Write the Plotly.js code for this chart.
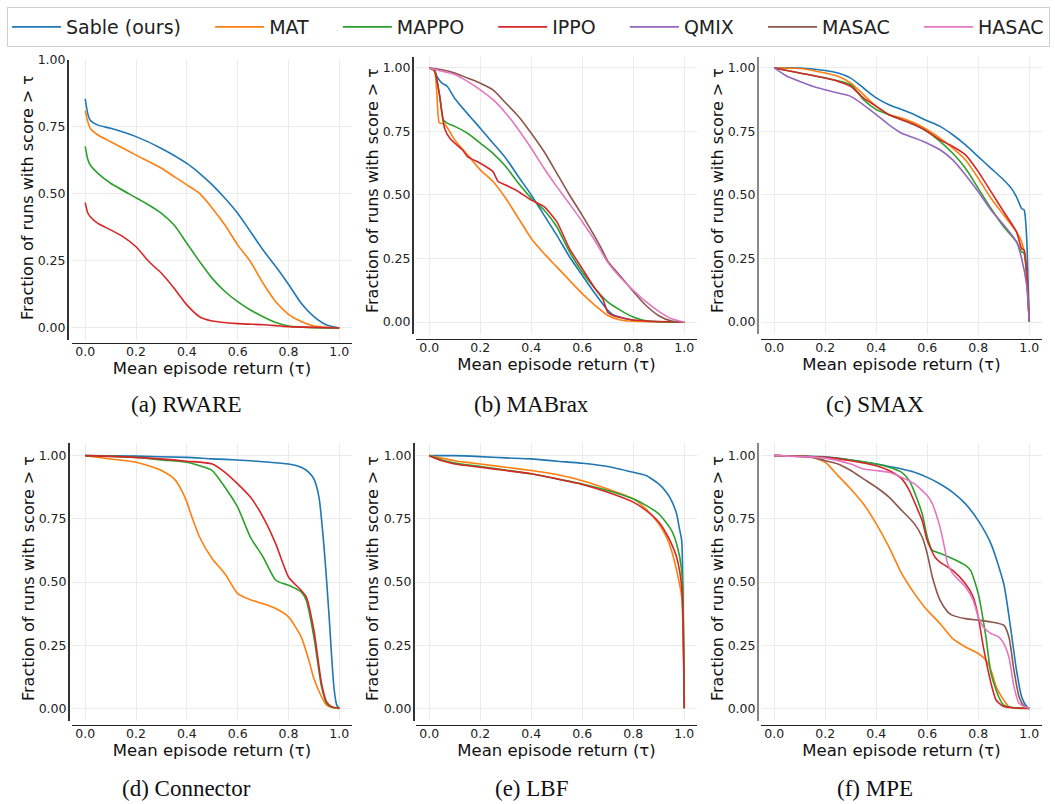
<!DOCTYPE html>
<html><head><meta charset="utf-8">
<script src="https://cdn.plot.ly/plotly-3.0.1.min.js"></script>
<style>html,body{margin:0;padding:0;background:#fff}</style>
</head><body><div id="chart" style="width:1055px;height:804px"></div>
<script>
// ---------- Data ----------
const algorithms = ["Sable (ours)", "MAT", "MAPPO", "IPPO", "QMIX", "MASAC", "HASAC"];
const captions = ["(a) RWARE", "(b) MABrax", "(c) SMAX", "(d) Connector", "(e) LBF", "(f) MPE"];
const xTickVals = [0, 0.2, 0.4, 0.6, 0.8, 1.0];
const xTickText = ["0.0", "0.2", "0.4", "0.6", "0.8", "1.0"];
const yTickVals = [0, 0.25, 0.5, 0.75, 1.0];
const yTickText = ["0.00", "0.25", "0.50", "0.75", "1.00"];
const xTitle = "Mean episode return (τ)";
const yTitle = "Fraction of runs with score > τ";

// (a) RWARE
const rwareSableX = [0,0.01,0.02,0.05,0.1,0.2,0.3,0.4,0.45,0.5,0.55,0.6,0.65,0.7,0.75,0.8,0.85,0.9,0.95,1.0];
const rwareSableY = [0.855,0.80,0.775,0.757,0.745,0.714,0.670,0.614,0.577,0.534,0.484,0.428,0.36,0.291,0.229,0.163,0.092,0.042,0.011,0.0];
const rwareMatX = [0,0.01,0.02,0.05,0.1,0.2,0.3,0.35,0.4,0.45,0.5,0.55,0.6,0.65,0.7,0.75,0.8,0.85,0.9,0.95,1.0];
const rwareMatY = [0.81,0.77,0.745,0.72,0.695,0.645,0.596,0.565,0.534,0.502,0.447,0.384,0.31,0.248,0.167,0.098,0.051,0.024,0.007,0.002,0];
const rwareMappoX = [0,0.01,0.02,0.05,0.1,0.2,0.25,0.3,0.35,0.4,0.45,0.5,0.55,0.6,0.65,0.7,0.75,0.8,0.85,0.9,1.0];
const rwareMappoY = [0.678,0.63,0.608,0.577,0.54,0.486,0.459,0.428,0.384,0.316,0.248,0.185,0.136,0.098,0.067,0.042,0.02,0.007,0.003,0.001,0];
const rwareIppoX = [0,0.01,0.02,0.05,0.1,0.15,0.2,0.25,0.3,0.35,0.4,0.45,0.5,0.6,0.7,0.8,0.9,1.0];
const rwareIppoY = [0.468,0.43,0.415,0.39,0.366,0.34,0.303,0.248,0.204,0.148,0.086,0.042,0.026,0.016,0.012,0.005,0.002,0];

// (b) MABrax
const mabraxSableX = [0,0.02,0.03,0.05,0.07,0.1,0.15,0.2,0.25,0.3,0.35,0.4,0.45,0.5,0.55,0.6,0.65,0.7,0.72,0.8,0.9,1.0];
const mabraxSableY = [1.0,0.993,0.967,0.94,0.928,0.88,0.82,0.763,0.704,0.645,0.572,0.5,0.421,0.342,0.257,0.184,0.112,0.046,0.029,0.007,0.001,0];
const mabraxMatX = [0,0.02,0.03,0.04,0.06,0.08,0.1,0.15,0.2,0.25,0.3,0.35,0.4,0.45,0.5,0.55,0.6,0.65,0.7,0.75,0.8,0.9,1.0];
const mabraxMatY = [1.0,0.99,0.895,0.783,0.78,0.75,0.717,0.658,0.599,0.553,0.487,0.408,0.329,0.27,0.217,0.164,0.112,0.066,0.026,0.008,0.003,0.001,0];
const mabraxMappoX = [0,0.02,0.04,0.055,0.07,0.1,0.15,0.2,0.25,0.3,0.35,0.4,0.45,0.5,0.55,0.6,0.65,0.7,0.75,0.8,0.85,0.9,1.0];
const mabraxMappoY = [1.0,0.99,0.895,0.796,0.783,0.77,0.743,0.704,0.664,0.612,0.546,0.487,0.441,0.375,0.276,0.197,0.132,0.079,0.046,0.02,0.005,0.001,0];
const mabraxIppoX = [0,0.02,0.04,0.06,0.08,0.1,0.13,0.15,0.2,0.25,0.26,0.27,0.3,0.35,0.4,0.45,0.5,0.55,0.6,0.65,0.68,0.7,0.72,0.8,0.9,1.0];
const mabraxIppoY = [1.0,0.99,0.895,0.763,0.724,0.704,0.678,0.651,0.625,0.592,0.572,0.553,0.539,0.513,0.48,0.454,0.395,0.289,0.21,0.132,0.092,0.039,0.026,0.008,0.002,0];
const mabraxMasacX = [0,0.05,0.1,0.15,0.2,0.25,0.3,0.35,0.4,0.45,0.5,0.55,0.6,0.65,0.68,0.7,0.75,0.8,0.85,0.9,0.95,1.0];
const mabraxMasacY = [1.0,0.993,0.98,0.96,0.94,0.914,0.862,0.809,0.743,0.671,0.586,0.5,0.42,0.335,0.28,0.24,0.18,0.12,0.065,0.025,0.004,0];
const mabraxHasacX = [0,0.05,0.1,0.15,0.2,0.25,0.3,0.35,0.4,0.45,0.5,0.55,0.6,0.65,0.7,0.75,0.8,0.85,0.9,0.95,1.0];
const mabraxHasacY = [1.0,0.987,0.974,0.947,0.914,0.875,0.822,0.757,0.684,0.605,0.533,0.465,0.395,0.32,0.235,0.175,0.125,0.08,0.042,0.013,0];

// (c) SMAX
const smaxSableX = [0,0.1,0.2,0.25,0.3,0.35,0.4,0.45,0.5,0.55,0.6,0.65,0.7,0.75,0.8,0.85,0.9,0.93,0.95,0.97,0.98,0.99,0.995,1.0];
const smaxSableY = [1.0,1.0,0.99,0.98,0.96,0.921,0.882,0.855,0.836,0.816,0.792,0.77,0.737,0.697,0.651,0.605,0.559,0.526,0.493,0.447,0.441,0.329,0.17,0];
const smaxMatX = [0,0.1,0.2,0.25,0.3,0.35,0.4,0.45,0.5,0.55,0.6,0.65,0.7,0.75,0.8,0.85,0.9,0.95,0.97,0.98,0.99,1.0];
const smaxMatY = [1.0,0.998,0.98,0.967,0.94,0.895,0.849,0.816,0.803,0.783,0.757,0.724,0.684,0.638,0.566,0.487,0.421,0.355,0.316,0.276,0.184,0];
const smaxMappoX = [0,0.1,0.2,0.3,0.35,0.4,0.45,0.5,0.55,0.6,0.65,0.7,0.75,0.8,0.85,0.9,0.95,0.97,0.98,0.99,1.0];
const smaxMappoY = [1.0,0.98,0.96,0.934,0.875,0.836,0.816,0.796,0.776,0.75,0.711,0.664,0.605,0.526,0.447,0.375,0.316,0.276,0.27,0.171,0];
const smaxIppoX = [0,0.05,0.1,0.2,0.25,0.3,0.35,0.4,0.45,0.5,0.55,0.6,0.65,0.7,0.75,0.8,0.85,0.9,0.95,0.97,0.98,0.99,1.0];
const smaxIppoY = [1.0,0.99,0.98,0.96,0.947,0.928,0.882,0.849,0.816,0.796,0.776,0.75,0.717,0.691,0.658,0.592,0.513,0.434,0.355,0.289,0.283,0.197,0];
const smaxQmixX = [0,0.05,0.1,0.15,0.2,0.25,0.3,0.35,0.4,0.45,0.5,0.55,0.6,0.65,0.7,0.75,0.8,0.85,0.9,0.95,0.97,0.99,1.0];
const smaxQmixY = [1.0,0.967,0.947,0.928,0.914,0.901,0.888,0.855,0.816,0.776,0.743,0.724,0.704,0.678,0.638,0.579,0.513,0.441,0.382,0.316,0.25,0.145,0];

// (d) Connector
const connSableX = [0,0.2,0.4,0.5,0.6,0.7,0.8,0.85,0.88,0.9,0.92,0.94,0.95,0.96,0.97,0.98,0.99,1.0];
const connSableY = [1.0,0.998,0.993,0.987,0.983,0.976,0.967,0.954,0.934,0.908,0.836,0.638,0.507,0.362,0.204,0.072,0.013,0];
const connMatX = [0,0.1,0.2,0.25,0.3,0.35,0.38,0.4,0.42,0.45,0.5,0.55,0.6,0.65,0.7,0.75,0.8,0.85,0.88,0.9,0.93,0.95,0.97,1.0];
const connMatY = [1.0,0.987,0.974,0.96,0.941,0.908,0.862,0.816,0.757,0.678,0.592,0.533,0.454,0.43,0.414,0.395,0.362,0.283,0.191,0.118,0.046,0.013,0.004,0];
const connMappoX = [0,0.2,0.3,0.4,0.45,0.5,0.55,0.6,0.65,0.7,0.75,0.8,0.85,0.87,0.9,0.93,0.95,0.97,1.0];
const connMappoY = [1.0,0.993,0.983,0.974,0.96,0.941,0.875,0.796,0.678,0.599,0.507,0.487,0.461,0.428,0.283,0.086,0.02,0.004,0];
const connIppoX = [0,0.2,0.4,0.5,0.55,0.6,0.65,0.7,0.75,0.8,0.85,0.87,0.9,0.93,0.95,0.97,1.0];
const connIppoY = [1.0,0.993,0.978,0.967,0.934,0.888,0.836,0.757,0.651,0.52,0.467,0.441,0.309,0.099,0.026,0.007,0];

// (e) LBF
const lbfSableX = [0,0.1,0.2,0.3,0.4,0.5,0.6,0.7,0.8,0.85,0.9,0.93,0.95,0.97,0.98,0.99,0.995,1.0];
const lbfSableY = [1.0,1.0,0.996,0.991,0.987,0.978,0.97,0.957,0.934,0.921,0.888,0.855,0.822,0.77,0.717,0.664,0.44,0];
const lbfMatX = [0,0.1,0.2,0.3,0.4,0.5,0.6,0.7,0.8,0.85,0.9,0.93,0.95,0.97,0.99,1.0];
const lbfMatY = [1.0,0.98,0.967,0.954,0.941,0.925,0.901,0.868,0.829,0.789,0.73,0.678,0.625,0.546,0.441,0];
const lbfMappoX = [0,0.05,0.1,0.2,0.3,0.4,0.5,0.6,0.7,0.8,0.85,0.9,0.95,0.97,0.99,1.0];
const lbfMappoY = [1.0,0.983,0.971,0.957,0.943,0.928,0.908,0.888,0.862,0.829,0.803,0.77,0.704,0.651,0.546,0];
const lbfIppoX = [0,0.05,0.1,0.2,0.3,0.4,0.5,0.6,0.7,0.8,0.85,0.9,0.93,0.95,0.97,0.99,1.0];
const lbfIppoY = [1.0,0.98,0.967,0.954,0.941,0.928,0.908,0.886,0.855,0.816,0.783,0.737,0.691,0.651,0.599,0.48,0];

// (f) MPE
const mpeSableX = [0,0.2,0.3,0.4,0.5,0.55,0.6,0.65,0.7,0.75,0.8,0.85,0.9,0.93,0.95,0.97,0.99,1.0];
const mpeSableY = [1.0,0.995,0.983,0.967,0.947,0.934,0.914,0.888,0.855,0.809,0.743,0.651,0.493,0.296,0.151,0.046,0.007,0];
const mpeMatX = [0,0.1,0.15,0.2,0.25,0.3,0.35,0.4,0.45,0.5,0.55,0.6,0.65,0.7,0.75,0.8,0.83,0.85,0.87,0.9,0.92,1.0];
const mpeMatY = [1.0,0.998,0.993,0.974,0.921,0.868,0.809,0.73,0.638,0.533,0.454,0.388,0.336,0.276,0.243,0.217,0.191,0.151,0.086,0.033,0.007,0];
const mpeMappoX = [0,0.2,0.3,0.4,0.45,0.5,0.53,0.55,0.58,0.6,0.62,0.65,0.7,0.75,0.77,0.8,0.83,0.85,0.88,0.9,0.95,1.0];
const mpeMappoY = [1.0,0.993,0.983,0.967,0.954,0.934,0.901,0.855,0.77,0.678,0.625,0.614,0.592,0.566,0.546,0.454,0.283,0.138,0.046,0.013,0.001,0];
const mpeIppoX = [0,0.2,0.3,0.4,0.45,0.5,0.53,0.55,0.58,0.6,0.63,0.65,0.7,0.75,0.78,0.8,0.82,0.85,0.87,0.9,1.0];
const mpeIppoY = [1.0,0.993,0.98,0.96,0.941,0.908,0.862,0.816,0.743,0.664,0.599,0.579,0.546,0.493,0.441,0.362,0.243,0.099,0.033,0.007,0];
const mpeMasacX = [0,0.1,0.15,0.2,0.25,0.3,0.35,0.4,0.45,0.5,0.55,0.58,0.6,0.62,0.65,0.68,0.7,0.75,0.8,0.85,0.9,0.92,0.94,0.96,0.98,1.0];
const mpeMasacY = [1.0,0.998,0.993,0.98,0.967,0.941,0.908,0.875,0.836,0.783,0.73,0.678,0.612,0.52,0.428,0.382,0.368,0.355,0.349,0.342,0.329,0.283,0.151,0.046,0.009,0];
const mpeHasacX = [0,0.2,0.3,0.35,0.4,0.45,0.5,0.55,0.6,0.62,0.65,0.67,0.68,0.7,0.75,0.78,0.8,0.82,0.85,0.88,0.9,0.92,0.94,0.96,0.98,1.0];
const mpeHasacY = [1.0,0.99,0.967,0.947,0.941,0.934,0.914,0.888,0.842,0.809,0.717,0.625,0.572,0.533,0.48,0.428,0.362,0.322,0.296,0.283,0.257,0.204,0.086,0.02,0.007,0];

// ---------- Styling ----------
const colors = {"Sable (ours)":"#1f77b4","MAT":"#ff7f0e","MAPPO":"#2ca02c","IPPO":"#d62728","QMIX":"#9467bd","MASAC":"#8c564b","HASAC":"#e377c2"};
const legendPad = "\u00a0\u00a0\u00a0\u00a0";
const W = 1055, H = 804;
const fx = p => p / W;
const fy = p => 1 - p / H;

const panels = [
  {series:[["Sable (ours)",rwareSableX,rwareSableY],["MAT",rwareMatX,rwareMatY],["MAPPO",rwareMappoX,rwareMappoY],["IPPO",rwareIppoX,rwareIppoY]],
   px:[72,352], py:[60,340], yr:[-0.045,1.0], xline:343, yline:67, lc:"#333", cap:[186,405], yt:[28,198]},
  {series:[["Sable (ours)",mabraxSableX,mabraxSableY],["MAT",mabraxMatX,mabraxMatY],["MAPPO",mabraxMappoX,mabraxMappoY],["IPPO",mabraxIppoX,mabraxIppoY],["MASAC",mabraxMasacX,mabraxMasacY],["HASAC",mabraxHasacX,mabraxHasacY]],
   px:[416,697], py:[57,334], yr:[-0.047,1.043], xline:339, yline:412, lc:"#333", cap:[531,405], yt:[372,191]},
  {series:[["Sable (ours)",smaxSableX,smaxSableY],["MAT",smaxMatX,smaxMatY],["MAPPO",smaxMappoX,smaxMappoY],["IPPO",smaxIppoX,smaxIppoY],["QMIX",smaxQmixX,smaxQmixY]],
   px:[761,1042], py:[57,334], yr:[-0.047,1.043], xline:339, yline:757, lc:"#888", cap:[875,405], yt:[717,191]},
  {series:[["Sable (ours)",connSableX,connSableY],["MAT",connMatX,connMatY],["MAPPO",connMappoX,connMappoY],["IPPO",connIppoX,connIppoY]],
   px:[72,352], py:[443,721], yr:[-0.05,1.05], xline:725, yline:68, lc:"#333", cap:[186,788], yt:[28,579]},
  {series:[["Sable (ours)",lbfSableX,lbfSableY],["MAT",lbfMatX,lbfMatY],["MAPPO",lbfMappoX,lbfMappoY],["IPPO",lbfIppoX,lbfIppoY]],
   px:[416,697], py:[443,721], yr:[-0.05,1.05], xline:725, yline:413, lc:"#333", cap:[531,788], yt:[372,579]},
  {series:[["Sable (ours)",mpeSableX,mpeSableY],["MAT",mpeMatX,mpeMatY],["MAPPO",mpeMappoX,mpeMappoY],["IPPO",mpeIppoX,mpeIppoY],["MASAC",mpeMasacX,mpeMasacY],["HASAC",mpeHasacX,mpeHasacY]],
   px:[761,1042], py:[443,721], yr:[-0.05,1.05], xline:725, yline:757, lc:"#888", cap:[875,788], yt:[717,579]}
];

const traces = [];
const shown = {};
const layout = {
  width: W, height: H, margin:{l:0,r:0,t:0,b:0},
  paper_bgcolor:"#fff", plot_bgcolor:"#fff",
  font:{family:"DejaVu Sans", color:"#222"},
  showlegend:true,
  legend:{orientation:"h", x:fx(7), y:fy(7), xanchor:"left", yanchor:"top",
          font:{family:"DejaVu Sans", size:19, color:"#222"},
          bordercolor:"#d0d0d0", borderwidth:1, bgcolor:"#fff", itemwidth:49},
  annotations:[]
};

panels.forEach((p, i) => {
  const n = i === 0 ? "" : String(i + 1);
  p.series.forEach(([name, xs, ys]) => {
    const first = !shown[name];
    shown[name] = true;
    const rank = algorithms.indexOf(name) + 1;
    traces.push({x: xs, y: ys, type:"scatter", mode:"lines",
      name: rank < algorithms.length ? name + legendPad : name,
      xaxis:"x"+n, yaxis:"y"+n, legendgroup:name, showlegend:first,
      legendrank: rank,
      line:{color: colors[name], width:1.6, shape:"spline", smoothing:0.6}, hoverinfo:"skip"});
  });
  layout["xaxis"+n] = {
    domain:[fx(p.px[0]), fx(p.px[1])], range:[-0.052, 1.05],
    anchor:"free", position: fy(p.xline),
    tickvals:xTickVals, ticktext:xTickText, ticks:"", ticklabelstandoff:-3,
    tickfont:{family:"DejaVu Sans", size:12.5, color:"#222"},
    showline:true, linecolor:"#222", linewidth:1.3,
    showgrid:true, gridcolor:"#ebebeb", gridwidth:1, zeroline:false,
    title:{text:xTitle, font:{family:"DejaVu Sans", size:16.5, color:"#111"}, standoff:0}
  };
  layout["yaxis"+n] = {
    domain:[fy(p.py[1]), fy(p.py[0])], range:p.yr,
    anchor:"free", position: fx(p.yline),
    tickvals:yTickVals, ticktext:yTickText, ticks:"", ticklabelstandoff:-1,
    tickfont:{family:"DejaVu Sans", size:12.5, color:"#222"},
    showline:true, linecolor:p.lc, linewidth:1.6,
    showgrid:true, gridcolor:"#ebebeb", gridwidth:1, zeroline:false
  };
  layout.annotations.push({text:yTitle, xref:"paper", yref:"paper",
    x:fx(p.yt[0]), y:fy(p.yt[1]), xanchor:"center", yanchor:"middle", textangle:-90, showarrow:false,
    font:{family:"DejaVu Sans", size:16, color:"#111"}});
  layout.annotations.push({text:captions[i], xref:"paper", yref:"paper",
    x:fx(p.cap[0]), y:fy(p.cap[1]), xanchor:"center", yanchor:"middle", showarrow:false,
    font:{family:"Liberation Serif", size:23, color:"#111"}});
});

Plotly.newPlot("chart", traces, layout, {displayModeBar:false, staticPlot:true});
</script></body></html>
